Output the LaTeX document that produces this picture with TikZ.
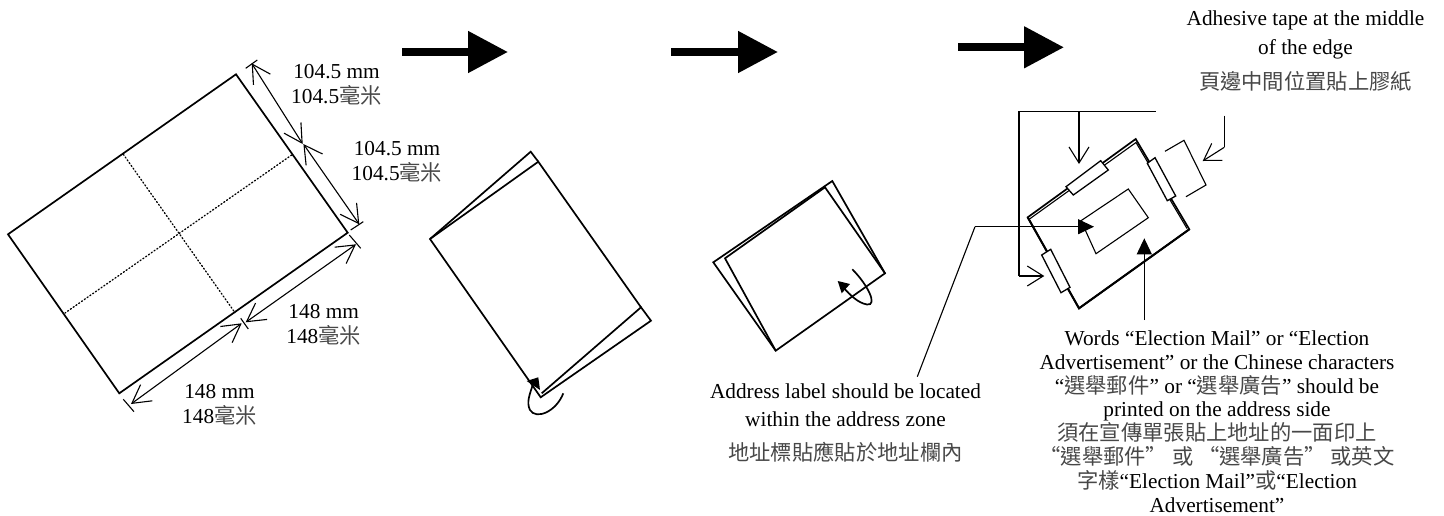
\documentclass[tikz,border=0pt]{standalone}
\usepackage{fontspec}
\setmainfont{Liberation Serif}
\newfontfamily\cjk{Noto Sans CJK TC}
\usetikzlibrary{arrows.meta}
\newcommand{\zh}[1]{{\cjk\color{black!72}#1}}
\tikzset{
  x=1pt,y=-1pt,
  sheet/.style={line width=1.7pt,line join=miter,draw=black},
  fold/.style={line width=1.3pt,line cap=round,draw=black,dash pattern=on 1.2pt off 2.2pt},
  thinl/.style={line width=1.1pt,draw=black},
  dimline/.style={line width=1.1pt,draw=black,{Straight Barb[length=18pt,width=20pt,line width=1.1pt]}-{Straight Barb[length=18pt,width=20pt,line width=1.1pt]}},
  lead/.style={line width=1.1pt,draw=black,-{Straight Barb[length=16pt,width=20pt,line width=1.1pt]}},
  leadplain/.style={line width=1.1pt,draw=black},
  leadfill/.style={line width=1.1pt,draw=black,-{Triangle[length=16pt,width=15pt]}},
  tape/.style={line width=1.3pt,draw=black,fill=white},
  bigarrow/.style={line width=8pt,draw=black,-{Triangle[length=40pt,width=40pt]}},
  lbl/.style={inner sep=0pt,align=center,font=\fontsize{21.3}{25}\selectfont},
  lblblock/.style={inner sep=0pt,align=center,font=\fontsize{21.3}{23.8}\selectfont},
}
\begin{document}
\begin{tikzpicture}
\useasboundingbox (0,0) rectangle (1444,515);
% big arrows
\coordinate (a1s) at (402,52); \coordinate (a1e) at (508,52);
\coordinate (a2s) at (671,52); \coordinate (a2e) at (778,52);
\coordinate (a3s) at (958,47.3); \coordinate (a3e) at (1064,47.3);
\draw[bigarrow] (a1s) -- (a1e);
\draw[bigarrow] (a2s) -- (a2e);
\draw[bigarrow] (a3s) -- (a3e);
% sheet
\draw[sheet] (236,74.3) -- (347.7,232.7) -- (119.3,393.3) -- (8,234.3) -- cycle;
\draw[fold] (123.3,154.3) -- (235,312.7);
\draw[fold] (291.7,155) -- (65,313);
% dimensions
\coordinate (d1a) at (251.7,63.3); \coordinate (d1b) at (302.7,144);
\coordinate (d2a) at (303.4,144); \coordinate (d2b) at (359.3,224.3);
\coordinate (d3a) at (356,244.3); \coordinate (d3b) at (245.7,322.3);
\coordinate (d4a) at (241.7,323.3); \coordinate (d4b) at (131,404);
\draw[dimline] (d1a) -- (d1b);
\draw[dimline] (d2a) -- (d2b);
\draw[dimline] (d3a) -- (d3b);
\draw[dimline] (d4a) -- (d4b);
\draw[thinl] (245.7,68.3) -- (257.3,60);
\draw[thinl] (350.7,230) -- (363.3,221.7);
\draw[thinl] (349.3,235) -- (360.7,248.3);
\draw[thinl] (240.7,318.3) -- (248.3,329);
\draw[thinl] (123.3,399.3) -- (134,411.7);
\node[lbl] (t1) at (336.5,84.5) {104.5 mm\\104.5\zh{毫米}};
\node[lbl] (t2) at (397,162) {104.5 mm\\104.5\zh{毫米}};
\node[lbl] (t3) at (323.7,324.5) {148 mm\\148\zh{毫米}};
\node[lbl] (t4) at (219.5,405) {148 mm\\148\zh{毫米}};
% first fold
\draw[sheet] (538.3,161.7) -- (530.7,151.7) -- (430,239) -- (540.7,397.3) -- (651,320.7) -- (641,307.3) -- (541.7,393.3);
\draw[sheet] (430,239) -- (538.3,161.7) -- (641,307.3);
\draw[line width=1.7pt] (563.3,393.3) .. controls (556,412) and (536,420) .. (530,410) .. controls (526,402) and (530,394) .. (533,384);
\fill (526.7,381) -- (538.3,377.3) -- (540,390) -- cycle;
% second fold
\draw[sheet] (713.3,262.3) -- (832.3,181) -- (885,273.3) -- (775.7,350.7) -- cycle;
\draw[sheet] (885,273.3) -- (825,187.3) -- (725,258.3) -- (775.7,350.7);
\draw[line width=1.7pt] (852.3,269.3) .. controls (868,285) and (878,306) .. (867,304.5) .. controls (858,303) and (850,295) .. (843,287);
\fill (837.7,281) -- (850,284) -- (841.7,293.3) -- cycle;
% envelope
\draw[sheet] (1135.7,139) -- (1027.7,217.3) -- (1079,308.3) -- (1189.3,229.3) -- cycle;
\draw[thinl] (1029.5,219) -- (1136,142.5) -- (1187,228.5);
\draw[line width=2pt] (1027.7,217.3) -- (1079,308.3) -- (1189.3,229.3);
\draw[tape] (1066,186.7) -- (1100.7,160.7) -- (1108.3,170) -- (1073.3,195) -- cycle;
\draw[tape] (1147.3,163.3) -- (1155,157.7) -- (1175.7,196) -- (1167.3,200.7) -- cycle;
\draw[tape] (1041.7,255) -- (1050.7,249.3) -- (1070,287.3) -- (1061,292.7) -- cycle;
\draw[thinl] (1081,220.7) -- (1128.3,189) -- (1148.3,217.7) -- (1096,253.7) -- cycle;
\draw[thinl] (1165,151.3) -- (1184,140.3) -- (1206,185) -- (1186,196.7);
% leaders
\coordinate (top1) at (1155.7,111.7); \coordinate (topc) at (1019,111.7); \coordinate (topd) at (1079,111.7);
\coordinate (topdE) at (1079,164); \coordinate (leftc) at (1019,276); \coordinate (leftE) at (1044.3,276);
\draw[leadplain] (top1) -- (topc) -- (leftc);
\draw[lead] (leftc) -- (leftE);
\draw[lead] (topd) -- (topdE);
\coordinate (r1) at (1224.3,115.7); \coordinate (r2) at (1224.3,147.3); \coordinate (r3) at (1202.7,161);
\draw[leadplain] (r1) -- (r2);
\draw[lead] (r2) -- (r3);
\node[lbl] (t5a) at (845.5,391.7) {Address label should be located};
\node[lbl] (t5b) at (845.5,419.3) {within the address zone};
\node[lbl] (t5z) at (845.5,451.7) {\zh{地址標貼應貼於地址欄內}};
\coordinate (l1) at (917.3,376.7); \coordinate (l2) at (975,226.7); \coordinate (l3) at (1094,226.7);
\draw[leadplain] (l1) -- (l2);
\draw[leadfill] (l2) -- (l3);
\node[lblblock] (t6) at (1217,421.5) {Words “Election Mail” or “Election\\Advertisement” or the Chinese characters\\“\zh{選舉郵件}” or “\zh{選舉廣告}” should be\\printed on the address side\\\zh{須在宣傳單張貼上地址的一面印上}\\\zh{“選舉郵件” 或 “選舉廣告” 或英文}\\\zh{字樣}“Election Mail”\zh{或}“Election\\Advertisement”};
\coordinate (w1) at (1144.3,320); \coordinate (w2) at (1144.3,238.3);
\draw[leadfill] (w1) -- (w2);
\node[lbl] (t7a) at (1305.5,20) {Adhesive tape at the middle};
\node[lbl] (t7b) at (1305.5,49) {of the edge};
\node[lbl] (t7c) at (1305.5,81) {\zh{頁邊中間位置貼上膠紙}};
\end{tikzpicture}
\end{document}
